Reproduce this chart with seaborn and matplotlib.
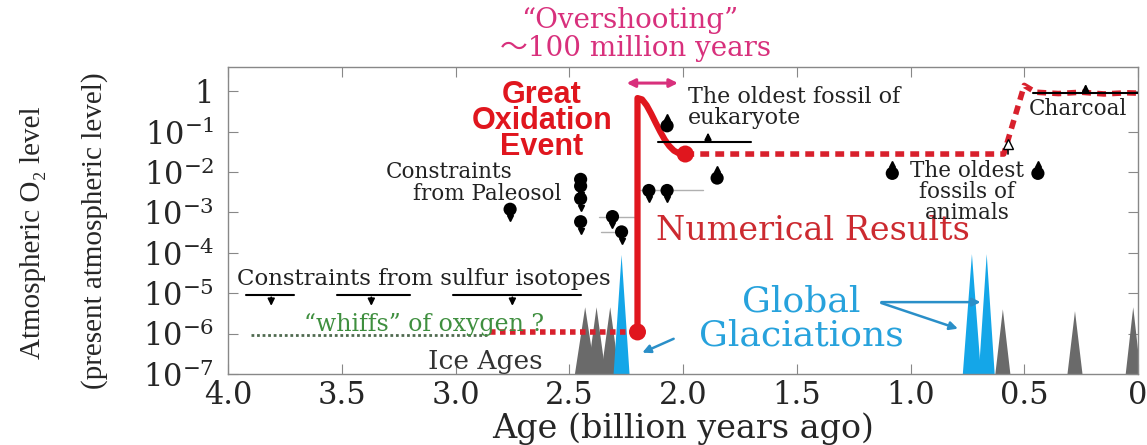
import numpy as np
import seaborn as sns
import matplotlib
matplotlib.use('Agg')
from matplotlib import pyplot as plt

#%% Data (age in Ga, O2 in PAL)
# numerical model: Great Oxidation Event overshoot
goe_age = [2.20, 2.20, 2.18, 2.16, 2.14, 2.12, 2.10, 2.08, 2.06, 2.04, 2.02, 1.99]
goe_o2 = [1.1e-6, 0.68, 0.63, 0.45, 0.28, 0.166, 0.10, 0.063, 0.044, 0.034, 0.0295, 0.028]
pre_age = [2.85, 2.20]
pre_o2 = [1.1e-6, 1.1e-6]
post_age = [1.99, 0.59, 0.50, 0.45, 0.35, 0.25, 0.15, 0.05, 0.0]
post_o2 = [0.028, 0.028, 1.4, 0.95, 0.88, 0.95, 0.86, 0.92, 0.9]
whiff_age = [3.90, 2.86]
whiff_o2 = [9.3e-7, 9.3e-7]

# proxy constraints (filled circles with limit arrows)
pt_age = [2.76, 2.45, 2.45, 2.45, 2.45, 2.31, 2.27, 2.15, 2.07, 2.07, 1.85, 1.08, 0.44]
pt_o2 = [1.2e-3, 6.6e-3, 4.5e-3, 2.2e-3, 5.9e-4, 7.9e-4, 3.3e-4, 3.5e-3, 3.5e-3,
         0.14, 7.1e-3, 9.3e-3, 9.3e-3]
pt_dir = ['down'] * 9 + ['up'] * 4
open_age = [0.57]
open_o2 = [0.028]

# age error bars (thin grey)
err_lo = [2.37, 2.36, 2.19]
err_hi = [2.21, 2.27, 1.91]
err_o2 = [7.9e-4, 3.3e-4, 3.5e-3]

# horizontal limit bars: sulfur isotopes (upper limits), eukaryote & charcoal (lower limits)
sul_start = [3.92, 3.52, 3.01]
sul_end = [3.71, 3.20, 2.45]
sul_arrow = [3.81, 3.37, 2.75]
sul_o2 = 9.3e-6
low_start = [2.11, 0.46]
low_end = [1.70, 0.0]
low_arrow = [1.89, 0.23]
low_o2 = [0.056, 0.89]

# glaciations: centre age, peak O2 level, half width (Ga)
blue_c = [2.27, 0.73, 0.665]
blue_peak = [8.9e-5, 9.3e-5, 9.3e-5]
blue_hw = [0.035, 0.04, 0.035]
grey_c = [2.43, 2.38, 2.32, 0.594, 0.277, 0.021]
grey_peak = [4.5e-6, 4.5e-6, 4.5e-6, 4.0e-6, 3.6e-6, 4.5e-6]
grey_hw = [0.045, 0.04, 0.04, 0.033, 0.033, 0.033]

x_ticks = [4.0, 3.5, 3.0, 2.5, 2.0, 1.5, 1.0, 0.5, 0.0]
x_labels = ['4.0', '3.5', '3.0', '2.5', '2.0', '1.5', '1.0', '0.5', '0']
y_ticks = [1e-7, 1e-6, 1e-5, 1e-4, 1e-3, 1e-2, 1e-1, 1]
y_labels = [r'$10^{-7}$', r'$10^{-6}$', r'$10^{-5}$', r'$10^{-4}$', r'$10^{-3}$',
            r'$10^{-2}$', r'$10^{-1}$', '1']

#%% Style
sns.set_style('ticks')
plt.rcParams['font.family'] = ['DejaVu Serif', 'Noto Sans CJK JP']
plt.rcParams['mathtext.fontset'] = 'dejavuserif'

RED = '#e0161e'
DOT_RED = '#d8202c'
PINK = '#d8307c'
BLUE = '#14a6e8'
GREY = '#6a6a6a'
INK = '#222222'

fig = plt.figure(figsize=(11.47, 4.45), dpi=100)
ax = fig.add_axes([228 / 1147, 1 - 374 / 445, 910 / 1147, 307 / 445])
ax.set_yscale('log')
ax.set_xlim(4.0, 0.0)
ax.set_ylim(1e-7, 4)

#%% Glaciation spikes
for c, p, w in zip(grey_c, grey_peak, grey_hw):
    ax.fill([c - w, c, c + w], [1e-7, p, 1e-7], color=GREY, lw=0, zorder=1)
for c, p, w in zip(blue_c, blue_peak, blue_hw):
    ax.fill([c - w, c, c + w], [1e-7, p, 1e-7], color=BLUE, lw=0, zorder=1.5)

#%% Model curves
sns.lineplot(x=whiff_age, y=whiff_o2, sort=False, estimator=None, color='#4f6a4f',
             lw=2, linestyle=(0, (1, 1)), ax=ax, zorder=2)
sns.lineplot(x=pre_age, y=pre_o2, sort=False, estimator=None, color=DOT_RED,
             lw=4, linestyle=(0, (1, 0.8)), ax=ax, zorder=3)
sns.lineplot(x=post_age, y=post_o2, sort=False, estimator=None, color=DOT_RED,
             lw=4, linestyle=(0, (1.6, 1.1)), ax=ax, zorder=3)
sns.lineplot(x=goe_age, y=goe_o2, sort=False, estimator=None, color=RED,
             lw=4.5, ax=ax, zorder=4)
sns.scatterplot(x=[goe_age[0], goe_age[-1]], y=[goe_o2[0], goe_o2[-1]], color=RED,
                s=150, edgecolor='none', ax=ax, zorder=5)

#%% Constraints
for lo, hi, v in zip(err_lo, err_hi, err_o2):
    ax.plot([lo, hi], [v, v], color='#b0b0b0', lw=1, zorder=2)

sns.scatterplot(x=pt_age, y=pt_o2, color='black', s=90, edgecolor='none', ax=ax, zorder=6)
for a, v, d in zip(pt_age, pt_o2, pt_dir):
    f = 10 ** 0.22 if d == 'up' else 10 ** -0.22
    ax.plot([a, a], [v, v * f], color='black', lw=1.3, zorder=6)
    ax.plot(a, v * f, marker='^' if d == 'up' else 'v', color='black', ms=5, zorder=6)
for a, v in zip(open_age, open_o2):
    ax.plot([a, a], [v, v * 10 ** 0.25], color='black', lw=1.2, zorder=6)
    ax.plot(a, v * 10 ** 0.25, marker='^', mfc='white', mec='black', ms=7, zorder=6)

for s, e, a in zip(sul_start, sul_end, sul_arrow):
    ax.plot([s, e], [sul_o2, sul_o2], color='black', lw=1.5, zorder=5)
    ax.annotate('', xy=(a, sul_o2 * 10 ** -0.35), xytext=(a, sul_o2),
                arrowprops=dict(arrowstyle='-|>', color='black', lw=1.3, mutation_scale=10))
for s, e, a, v in zip(low_start, low_end, low_arrow, low_o2):
    ax.plot([s, e], [v, v], color='black', lw=1.5, zorder=5)
    ax.annotate('', xy=(a, v * 10 ** 0.3), xytext=(a, v),
                arrowprops=dict(arrowstyle='-|>', color='black', lw=1.3, mutation_scale=10))

#%% Axes styling
ax.set_xticks(x_ticks)
ax.set_xticklabels(x_labels, fontsize=22)
ax.set_yticks(y_ticks)
ax.set_yticklabels(y_labels, fontsize=22)
ax.minorticks_off()
ax.tick_params(direction='in', length=7, color='#888888', top=True, right=True)
ax.tick_params(axis='x', pad=4)
ax.tick_params(axis='y', pad=10)
for sp in ax.spines.values():
    sp.set_color('#888888')
    sp.set_linewidth(1)
ax.set_xlabel('Age (billion years ago)', fontsize=24, labelpad=1)

fig.text(33 / 1147, 1 - 233 / 445, 'Atmospheric O\u2082 level', rotation=90,
         ha='center', va='center', fontsize=21, family=['Liberation Serif', 'DejaVu Serif'])
fig.text(95 / 1147, 1 - 231 / 445, '(present atmospheric level)', rotation=90,
         ha='center', va='center', fontsize=21, family=['Liberation Serif', 'DejaVu Serif'])

#%% Annotations
fig.text(630 / 1147, 1 - 20 / 445, '\u201cOvershooting\u201d', color=PINK, fontsize=20,
         ha='center', va='center')
fig.text(636 / 1147, 1 - 49 / 445, '\uff5e100 million years', color=PINK, fontsize=20,
         ha='center', va='center')
ax.annotate('', xy=(2.26, 1.6), xytext=(2.01, 1.6), zorder=7,
            arrowprops=dict(arrowstyle='<|-|>', color=PINK, lw=2.2, mutation_scale=12))

ax.text(2.62, 10 ** -0.74, 'Great\nOxidation\nEvent', color=RED, fontsize=22,
        family='Liberation Sans', weight='bold', ha='center', va='center', linespacing=0.83)
ax.text(2.12, 10 ** -3.46, 'Numerical Results', color='#cc2a30', fontsize=24,
        ha='left', va='center')
ax.text(3.03, 10 ** -2.0, 'Constraints', fontsize=15.5, ha='center', va='center', color=INK)
ax.text(2.86, 10 ** -2.55, 'from Paleosol', fontsize=15.5, ha='center', va='center', color=INK)
ax.text(1.98, 10 ** -0.15, 'The oldest fossil of', fontsize=16, ha='left', va='center', color=INK)
ax.text(1.98, 10 ** -0.65, 'eukaryote', fontsize=16, ha='left', va='center', color=INK)
ax.text(0.48, 10 ** -0.45, 'Charcoal', fontsize=15.5, ha='left', va='center', color=INK)
ax.text(0.75, 10 ** -2.5, 'The oldest\nfossils of\nanimals', fontsize=15.5, ha='center',
        va='center', color=INK, linespacing=0.95)
ax.text(3.96, 10 ** -4.65, 'Constraints from sulfur isotopes', fontsize=16.5, ha='left',
        va='center', color=INK)
ax.text(3.14, 10 ** -5.78, '\u201cwhiffs\u201d of oxygen ?', fontsize=17, ha='center',
        va='center', color='#3f8f3f')
ax.text(2.87, 10 ** -6.68, 'Ice Ages', fontsize=19, ha='center', va='center', color='#333333')
ax.text(1.48, 10 ** -5.2, 'Global', fontsize=26, ha='center', va='center', color='#27a2dc')
ax.text(1.48, 10 ** -6.05, 'Glaciations', fontsize=26, ha='center', va='center', color='#27a2dc')

arrow_from = [(1.14, 10 ** -5.22), (1.14, 10 ** -5.22), (2.03, 10 ** -6.1)]
arrow_to = [(0.68, 10 ** -5.22), (0.78, 10 ** -5.9), (2.19, 10 ** -6.5)]
for p0, p1 in zip(arrow_from, arrow_to):
    ax.annotate('', xy=p1, xytext=p0, zorder=7,
                arrowprops=dict(arrowstyle='-|>', color='#2a8fc8', lw=1.8, mutation_scale=12))

fig.savefig('out.png', dpi=100)
